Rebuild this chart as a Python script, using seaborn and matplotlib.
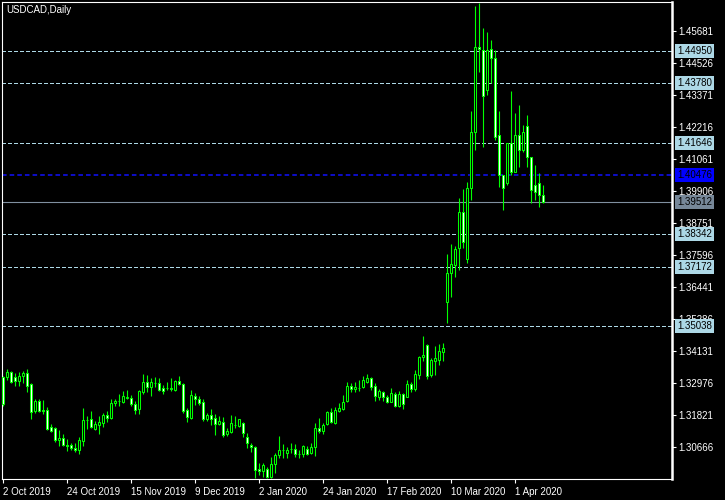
import matplotlib
matplotlib.use("Agg")
import matplotlib.pyplot as plt
import seaborn as sns
import pandas as pd

# daily USDCAD bars, 2 Oct 2019 .. 10 Apr 2020 (no bars on 25 Dec / 1 Jan)
opens = [1.3320, 1.3321, 1.3338, 1.3321, 1.3306, 1.3325, 1.3333, 1.3294, 1.3198, 1.3234,
         1.3201, 1.3201, 1.3140, 1.3136, 1.3092, 1.3101, 1.3075, 1.3075, 1.3065, 1.3057,
         1.3091, 1.3165, 1.3169, 1.3133, 1.3147, 1.3155, 1.3183, 1.3173, 1.3226, 1.3234,
         1.3229, 1.3246, 1.3244, 1.3223, 1.3204, 1.3267, 1.3301, 1.3285, 1.3297, 1.3297,
         1.3279, 1.3279, 1.3279, 1.3273, 1.3307, 1.3295, 1.3201, 1.3173, 1.3252, 1.3241,
         1.3229, 1.3169, 1.3182, 1.3171, 1.3151, 1.3158, 1.3115, 1.3123, 1.3147, 1.3143,
         1.3153, 1.3103, 1.3075, 1.3067, 1.2987, 1.2982, 1.2988, 1.2961, 1.3006, 1.3039,
         1.3057, 1.3045, 1.3059, 1.3059, 1.3041, 1.3041, 1.3061, 1.3045, 1.3069, 1.3135,
         1.3126, 1.3149, 1.3193, 1.3155, 1.3198, 1.3205, 1.3235, 1.3288, 1.3276, 1.3281,
         1.3283, 1.3303, 1.3315, 1.3286, 1.3249, 1.3267, 1.3249, 1.3231, 1.3258, 1.3217,
         1.3258, 1.3249, 1.3294, 1.3276, 1.3327, 1.3391, 1.3436, 1.3327, 1.3378, 1.3381,
         1.3411, 1.3589, 1.3694, 1.3724, 1.3784, 1.3916, 1.3744, 1.4000, 1.4204, 1.4510,
         1.4499, 1.4354, 1.4501, 1.4469, 1.4192, 1.4048, 1.4018, 1.4164, 1.4060, 1.4192,
         1.4138, 1.4225, 1.4112, 1.4012, 1.4018, 1.3976]
highs = [1.3324, 1.3349, 1.3342, 1.3333, 1.3337, 1.3343, 1.3348, 1.3299, 1.3241, 1.3241,
         1.3237, 1.3212, 1.3151, 1.3141, 1.3130, 1.3115, 1.3097, 1.3081, 1.3082, 1.3103,
         1.3208, 1.3179, 1.3197, 1.3161, 1.3179, 1.3192, 1.3197, 1.3240, 1.3240, 1.3259,
         1.3270, 1.3274, 1.3256, 1.3235, 1.3274, 1.3331, 1.3327, 1.3315, 1.3319, 1.3315,
         1.3291, 1.3301, 1.3315, 1.3309, 1.3324, 1.3299, 1.3207, 1.3274, 1.3262, 1.3250,
         1.3240, 1.3189, 1.3204, 1.3187, 1.3179, 1.3177, 1.3137, 1.3183, 1.3179, 1.3167,
         1.3159, 1.3119, 1.3083, 1.3071, 1.3009, 1.3009, 1.2995, 1.3033, 1.3045, 1.3107,
         1.3079, 1.3067, 1.3081, 1.3079, 1.3057, 1.3075, 1.3071, 1.3081, 1.3153, 1.3171,
         1.3153, 1.3198, 1.3207, 1.3211, 1.3228, 1.3255, 1.3303, 1.3299, 1.3303, 1.3309,
         1.3324, 1.3331, 1.3321, 1.3297, 1.3276, 1.3271, 1.3256, 1.3279, 1.3265, 1.3271,
         1.3263, 1.3309, 1.3303, 1.3345, 1.3396, 1.3468, 1.3439, 1.3389, 1.3432, 1.3439,
         1.3444, 1.3763, 1.3798, 1.3793, 1.3964, 1.3996, 1.4024, 1.4279, 1.4657, 1.4669,
         1.4577, 1.4564, 1.4535, 1.4499, 1.4279, 1.4048, 1.4164, 1.4352, 1.4273, 1.4300,
         1.4228, 1.4264, 1.4114, 1.4084, 1.4054, 1.4012]
lows = [1.3215, 1.3309, 1.3299, 1.3288, 1.3289, 1.3297, 1.3267, 1.3169, 1.3189, 1.3193,
        1.3186, 1.3129, 1.3121, 1.3087, 1.3073, 1.3070, 1.3055, 1.3057, 1.3051, 1.3043,
        1.3071, 1.3132, 1.3135, 1.3129, 1.3115, 1.3140, 1.3158, 1.3168, 1.3214, 1.3217,
        1.3226, 1.3240, 1.3214, 1.3187, 1.3187, 1.3259, 1.3265, 1.3252, 1.3285, 1.3271,
        1.3259, 1.3274, 1.3271, 1.3271, 1.3291, 1.3189, 1.3159, 1.3168, 1.3220, 1.3220,
        1.3163, 1.3161, 1.3147, 1.3111, 1.3147, 1.3103, 1.3108, 1.3117, 1.3135, 1.3140,
        1.3105, 1.3063, 1.3051, 1.2955, 1.2967, 1.2961, 1.2955, 1.2955, 1.2973, 1.3027,
        1.3029, 1.3029, 1.3045, 1.3033, 1.3029, 1.3033, 1.3039, 1.3043, 1.3037, 1.3119,
        1.3115, 1.3147, 1.3153, 1.3151, 1.3193, 1.3201, 1.3231, 1.3267, 1.3265, 1.3271,
        1.3279, 1.3297, 1.3273, 1.3235, 1.3237, 1.3234, 1.3226, 1.3229, 1.3211, 1.3213,
        1.3204, 1.3247, 1.3267, 1.3271, 1.3313, 1.3378, 1.3313, 1.3319, 1.3327, 1.3363,
        1.3378, 1.3516, 1.3609, 1.3681, 1.3706, 1.3784, 1.3730, 1.3958, 1.4138, 1.4420,
        1.4150, 1.4336, 1.4378, 1.4174, 1.4006, 1.3922, 1.4012, 1.4048, 1.4060, 1.4078,
        1.4132, 1.4078, 1.3946, 1.3958, 1.3934, 1.3946]
closes = [1.3223, 1.3337, 1.3303, 1.3307, 1.3325, 1.3336, 1.3289, 1.3195, 1.3234, 1.3198,
          1.3198, 1.3132, 1.3127, 1.3092, 1.3101, 1.3075, 1.3072, 1.3063, 1.3058, 1.3093,
          1.3165, 1.3166, 1.3141, 1.3151, 1.3158, 1.3183, 1.3173, 1.3228, 1.3234, 1.3233,
          1.3252, 1.3247, 1.3222, 1.3201, 1.3270, 1.3301, 1.3285, 1.3301, 1.3298, 1.3273,
          1.3271, 1.3280, 1.3275, 1.3307, 1.3294, 1.3199, 1.3175, 1.3256, 1.3240, 1.3228,
          1.3169, 1.3182, 1.3169, 1.3151, 1.3161, 1.3110, 1.3126, 1.3153, 1.3146, 1.3167,
          1.3119, 1.3081, 1.3067, 1.2985, 1.2981, 1.3002, 1.2961, 1.3005, 1.3039, 1.3057,
          1.3056, 1.3057, 1.3060, 1.3041, 1.3042, 1.3071, 1.3042, 1.3069, 1.3135, 1.3126,
          1.3147, 1.3193, 1.3157, 1.3201, 1.3209, 1.3231, 1.3288, 1.3276, 1.3285, 1.3280,
          1.3309, 1.3315, 1.3285, 1.3250, 1.3270, 1.3249, 1.3231, 1.3261, 1.3216, 1.3258,
          1.3223, 1.3294, 1.3276, 1.3331, 1.3391, 1.3399, 1.3324, 1.3383, 1.3387, 1.3414,
          1.3423, 1.3694, 1.3726, 1.3780, 1.3916, 1.3805, 1.4000, 1.4204, 1.4510, 1.4501,
          1.4334, 1.4499, 1.4469, 1.4186, 1.4048, 1.4000, 1.4164, 1.4060, 1.4192, 1.4138,
          1.4204, 1.4112, 1.3994, 1.3988, 1.3976, 1.3951]

tick_dates = ["2 Oct 2019", "24 Oct 2019", "15 Nov 2019", "9 Dec 2019", "2 Jan 2020",
              "24 Jan 2020", "17 Feb 2020", "10 Mar 2020", "1 Apr 2020"]
price_ticks = [1.30666, 1.31821, 1.32976, 1.34131, 1.35286, 1.36441, 1.37596,
               1.38751, 1.39906, 1.41061, 1.42216, 1.43371, 1.44526, 1.45681]
level_lines = [1.44950, 1.43780, 1.41646, 1.38342, 1.37172, 1.35038]
blue_level = 1.40476
last_price = 1.39512

dates = pd.bdate_range("2019-10-02", "2020-04-10")
dates = dates[~dates.isin(pd.to_datetime(["2019-12-25", "2020-01-01"]))]
df = pd.DataFrame({"date": dates, "open": opens, "high": highs, "low": lows, "close": closes})
df["bar"] = range(len(df))
df["up"] = df["close"] >= df["open"]

sns.set_theme(style="dark", rc={
    "figure.facecolor": "black", "axes.facecolor": "black",
    "axes.edgecolor": "white", "text.color": "white",
    "xtick.color": "white", "ytick.color": "white",
    "axes.grid": False,
})
plt.rcParams["font.family"] = ["Liberation Sans", "DejaVu Sans"]

fig = plt.figure(figsize=(7.25, 5), dpi=100)
ax = fig.add_axes([2 / 725, 21 / 500, 670 / 725, 477 / 500])

green = "#00FF00"
ax.vlines(df["bar"], df["low"], df["high"], color=green, lw=0.8, zorder=3)
body_lo = df[["open", "close"]].min(axis=1)
body_h = (df["close"] - df["open"]).abs()
fills = ["black" if u else "white" for u in df["up"]]
ax.bar(df["bar"], body_h, bottom=body_lo, width=0.5, color=fills,
       edgecolor=green, linewidth=0.75, zorder=4)

# price levels
for v in level_lines:
    ax.axhline(v, color="#ADD8E6", ls=(0, (3, 2)), lw=0.75, zorder=2, antialiased=False)
ax.axhline(blue_level, color="#1010FF", ls=(0, (3, 2)), lw=1.1, zorder=2)
ax.axhline(last_price, color="#8090A0", lw=0.8, zorder=2)

ax.set_xlim(-0.25, 167.25)
ax.set_ylim(1.29524, 1.46715)

ax.yaxis.tick_right()
ax.set_yticks(price_ticks)
ax.set_yticklabels([f"{t:.5f}" for t in price_ticks])
tick_pos = [df.index[df["date"] == pd.to_datetime(d, format="%d %b %Y")][0] for d in tick_dates]
ax.set_xticks(tick_pos)
ax.set_xticklabels(tick_dates, ha="left")
ax.tick_params(axis="both", which="both", length=3, width=0.8, labelsize=7,
               direction="out", bottom=True, right=True, left=False)
ax.tick_params(axis="y", pad=1.5)
ax.tick_params(axis="x", pad=2.5)

for side in ["top", "left", "bottom"]:
    ax.spines[side].set_linewidth(0.8)
ax.spines["right"].set_linewidth(1.8)

def level_tag(value, bg, fg="black"):
    ax.annotate(f"{value:.5f}", xy=(1, value), xycoords=("axes fraction", "data"),
                xytext=(3.5, 0), textcoords="offset points", ha="left", va="center",
                fontsize=7, color=fg, annotation_clip=False, zorder=10,
                bbox=dict(boxstyle="square,pad=0.2", fc=bg, ec="none"))

for v in level_lines:
    level_tag(v, "#ADD8E6")
level_tag(blue_level, "#0000FF")
level_tag(last_price, "#778899")

fig.text(6 / 725, 1 - 10 / 500, "USDCAD,Daily", color="white", fontsize=7,
         ha="left", va="center")

fig.savefig("out.png", dpi=100, facecolor="black")
